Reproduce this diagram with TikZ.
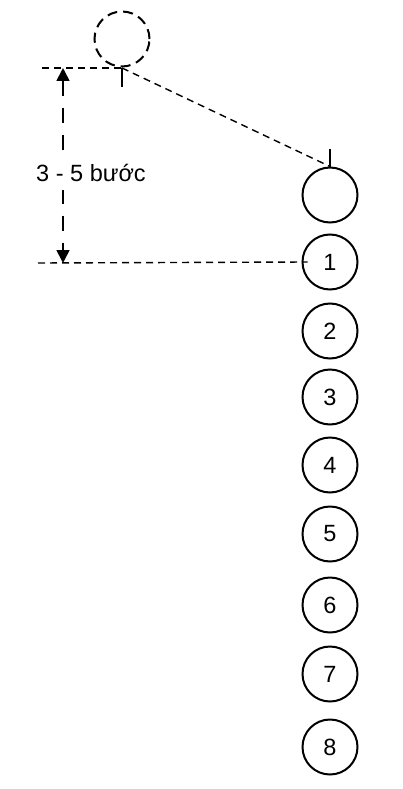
\documentclass[tikz,border=0pt]{standalone}
\usepackage{fontspec}
\setmainfont{Liberation Sans}
\usetikzlibrary{arrows.meta}

\begin{document}
\begin{tikzpicture}[x=1pt,y=-1pt,
	player/.style={draw,circle,line width=2pt,minimum size=55pt,inner sep=0pt,font=\fontsize{23.5}{27}\selectfont},
	guide/.style={line width=1.4pt,dash pattern=on 7pt off 5pt},
	>={Triangle[length=13pt,width=13pt]}]
\useasboundingbox (0,0) rectangle (403,789);
\node[player,dash pattern=on 10pt off 6pt] (coach) at (122,39) {};
\node[player] (lead) at (330,195) {};
\foreach \n/\y in {1/262,2/331,3/397,4/465,5/534,6/605,7/674,8/747}
	\node[player] (p\n) at (330,\y) {\n};
\coordinate (mark) at (122,68);
\coordinate (left top) at (42,68);
\coordinate (left base) at (38,263);
\coordinate (arrow top) at (63,68);
\coordinate (arrow base) at (63,263);
\draw[guide] (left top) -- (mark);
\draw[guide] (mark) -- (lead.north);
\draw[guide] (left base) -- ([xshift=6pt]p1.west);
\draw[line width=2pt] (mark) -- ++(0,19);
\draw[line width=2pt] (lead.north) -- ++(0,-18);
\draw[line width=1.8pt,<->,dash pattern=on 15pt off 12pt] (arrow top) -- (arrow base);
\node[fill=white,anchor=base,inner xsep=0pt,inner ysep=9pt,font=\fontsize{23.5}{27}\selectfont] (steps) at (91,181) {3 - 5 bước};
\end{tikzpicture}
\end{document}
